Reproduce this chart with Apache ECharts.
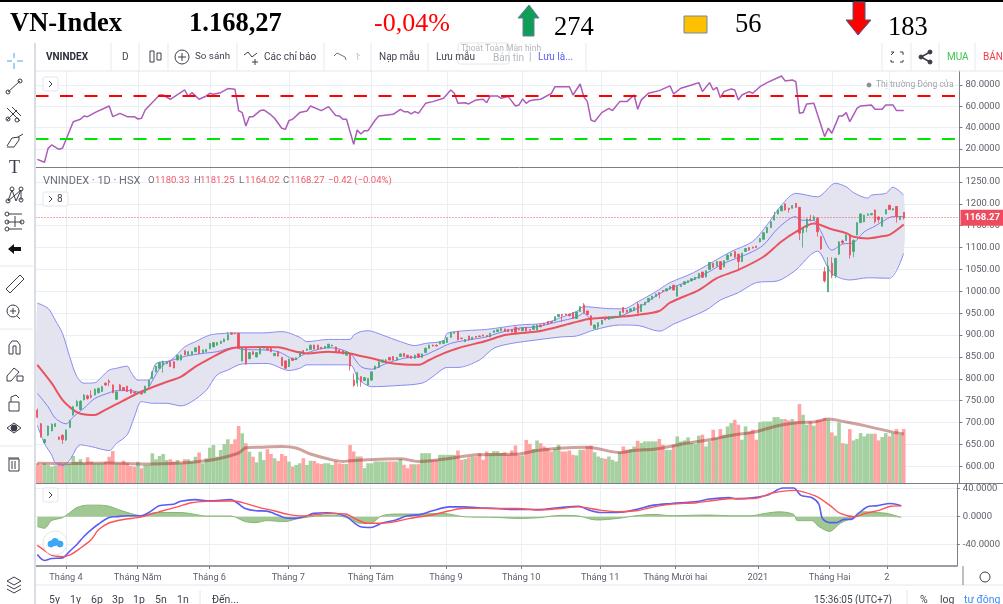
<!DOCTYPE html>
<html>
<head>
<meta charset="utf-8">
<title>VN-Index</title>
<style>
  html, body { margin: 0; padding: 0; background: #fff; overflow: hidden; }
  #chart { width: 1003px; height: 604px; }
</style>
<script src="https://cdn.jsdelivr.net/npm/echarts@6/dist/echarts.min.js"></script>
</head>
<body>
<div id="chart"></div>
<script>
// bars are daily, index 0 is mid March 2020, index 241 is the last session
const slotCount = 257
const tickIndex = [8, 28, 48, 70, 93, 114, 135, 157, 178, 201, 221, 237]
const tickLabels = ['Tháng 4', 'Tháng Năm', 'Tháng 6', 'Tháng 7', 'Tháng Tám', 'Tháng 9', 'Tháng 10', 'Tháng 11', 'Tháng Mười hai', '2021', 'Tháng Hai', '2']

// open, close, low, high
const ohlc = [
  [728,712,710,732],[697,668,665,699],[654,661,652,663],[671,692,669,693],[681,696,680,698],[691,697,690,699],[667,662,660,668],[671,661,651,673],
  [660,683,658,684],[689,704,688,706],[717,736,716,738],[738,748,736,752],[730,749,728,751],[752,763,751,765],[761,755,752,764],[762,758,755,774],
  [763,776,762,778],[768,778,767,780],[771,782,770,784],[790,786,784,792],[795,792,783,799],[786,768,767,787],[753,770,752,772],[786,774,773,788],
  [780,774,773,781],[783,771,770,784],[776,767,766,777],[770,768,766,771],[766,770,765,771],[767,765,764,769],[768,783,767,784],[783,797,782,798],
  [801,816,800,817],[816,829,815,830],[824,837,823,838],[831,839,814,842],[835,838,833,840],[839,828,827,840],[839,825,824,841],[843,854,842,855],
  [843,854,842,856],[864,855,854,865],[855,862,854,863],[855,862,854,863],[862,871,861,872],[875,858,857,876],[860,866,859,867],[862,867,861,868],
  [869,881,868,882],[873,883,872,884],[877,883,876,884],[881,886,880,887],[885,891,884,892],[889,901,888,907],[905,902,901,906],[904,903,902,905],
  [904,870,868,905],[841,870,840,871],[870,834,833,871],[846,860,845,861],[862,856,855,863],[850,860,849,861],[857,871,856,872],[870,871,869,873],
  [869,866,865,870],[870,862,861,871],[853,858,852,859],[862,852,851,863],[849,830,829,850],[841,824,823,842],[828,845,827,846],[847,842,841,848],
  [844,848,843,849],[852,862,851,863],[864,861,860,866],[865,868,864,869],[867,877,866,878],[877,868,867,878],[877,869,868,878],[872,869,868,873],
  [870,874,869,875],[871,879,870,880],[875,877,874,878],[873,862,861,874],[866,860,859,867],[864,857,856,865],[854,862,853,863],[857,829,819,858],
  [797,785,782,812],[790,814,782,815],[805,794,782,806],[796,803,795,804],[786,801,785,802],[797,816,796,817],[822,829,821,830],[826,839,825,840],
  [838,843,837,844],[842,843,841,845],[849,843,842,850],[851,843,842,852],[843,849,842,850],[851,857,850,858],[858,851,850,859],[854,849,848,855],
  [852,847,846,853],[847,854,846,855],[857,849,848,858],[849,857,848,858],[860,870,859,871],[870,877,869,878],[877,875,874,878],[877,875,874,878],
  [880,885,879,886],[881,887,880,888],[883,894,882,895],[895,906,894,907],[904,906,903,907],[908,889,888,909],[893,892,890,894],[885,890,884,891],
  [898,889,888,899],[890,895,889,896],[897,895,894,898],[898,897,896,899],[900,898,897,901],[899,897,896,900],[896,904,895,905],[906,910,905,911],
  [908,912,907,913],[910,915,909,916],[914,909,908,915],[913,908,907,914],[913,907,906,914],[918,906,905,919],[914,912,911,915],[910,917,909,918],
  [917,909,908,918],[913,911,910,914],[913,921,912,922],[912,923,911,924],[923,919,918,924],[927,924,923,928],[931,925,924,932],[931,929,928,932],
  [933,942,932,943],[942,947,941,948],[947,945,930,948],[948,946,945,949],[948,944,943,949],[951,938,937,952],[938,953,937,954],[954,965,953,966],
  [969,951,950,973],[955,947,946,956],[944,923,922,945],[915,923,913,924],[919,928,913,929],[925,934,924,935],[936,935,934,937],[936,942,935,943],
  [941,942,940,943],[941,943,940,944],[942,954,941,955],[963,952,951,964],[957,952,951,958],[954,960,953,961],[956,963,955,964],[971,951,949,975],
  [954,970,953,971],[969,975,968,976],[976,984,975,985],[982,989,981,990],[988,994,987,995],[997,994,984,998],[1002,1000,999,1003],[1001,1006,1000,1007],
  [1005,1011,1004,1012],[1014,1003,1002,1015],[989,1011,988,1012],[1011,1014,1010,1015],[1016,1022,1015,1023],[1020,1024,1019,1025],[1024,1029,1023,1030],[1027,1032,1026,1033],
  [1030,1041,1029,1042],[1044,1032,1031,1045],[1033,1047,1032,1048],[1050,1066,1049,1067],[1064,1055,1054,1065],[1058,1068,1057,1069],[1068,1050,1049,1069],[1056,1070,1055,1071],
  [1072,1083,1071,1084],[1081,1087,1080,1088],[1091,1078,1077,1092],[1085,1068,1049,1086],[1068,1087,1067,1088],[1091,1098,1090,1099],[1100,1094,1093,1101],[1101,1099,1098,1102],
  [1103,1100,1099,1104],[1113,1121,1112,1122],[1119,1134,1118,1135],[1134,1146,1133,1147],[1146,1159,1145,1160],[1163,1174,1162,1182],[1177,1186,1176,1187],[1184,1195,1183,1196],
  [1200,1186,1185,1201],[1190,1187,1180,1191],[1190,1196,1189,1197],[1201,1192,1191,1202],[1192,1133,1117,1193],[1134,1144,1100,1146],[1146,1165,1135,1167],[1165,1163,1160,1175],
  [1163,1170,1163,1174],[1167,1136,1125,1170],[1125,1097,1095,1127],[1045,1024,1020,1056],[999,1058,999,1078],[1064,1036,1030,1078],[1036,1075,1030,1077],[1085,1113,1083,1115],
  [1115,1111,1108,1118],[1116,1129,1115,1130],[1129,1083,1075,1130],[1091,1117,1078,1118],[1129,1157,1128,1158],[1157,1177,1156,1178],[1159,1174,1158,1175],[1174,1177,1173,1178],
  [1175,1178,1174,1179],[1186,1159,1155,1187],[1170,1164,1157,1172],[1149,1169,1148,1170],[1177,1187,1176,1188],[1197,1187,1186,1198],[1186,1189,1185,1190],[1194,1171,1157,1195],
  [1164,1171,1163,1172],[1180.33,1168.27,1164.02,1181.25]
]

const volumes = [
  197,180,197,180,163,175,197,190,197,190,270,213,237,197,257,213,197,197,197,213,263,320,197,197,223,197,170,163,213,147,180,180,
  297,237,270,290,230,237,213,230,197,237,237,213,263,305,197,247,353,380,263,330,390,437,390,437,570,497,397,313,263,207,313,230,
  337,290,247,220,290,270,213,163,180,197,247,180,223,220,197,190,197,197,180,215,197,190,190,380,315,265,265,148,197,197,215,215,
  215,215,215,215,215,239,182,148,188,188,188,298,298,298,232,232,282,282,282,282,282,325,232,239,255,265,265,298,232,315,298,318,
  318,300,308,282,325,375,275,275,431,392,340,425,398,365,348,315,340,382,315,315,325,282,275,332,332,365,375,308,265,250,242,265,
  232,215,308,365,332,340,365,422,400,416,416,416,416,440,383,332,332,383,466,416,426,456,399,392,473,483,366,416,533,450,539,483,
  566,599,632,583,433,566,516,533,433,609,616,616,616,659,659,639,639,626,639,616,789,682,583,616,573,632,632,649,632,506,473,606,
  399,392,539,426,440,499,466,493,493,493,426,459,499,466,499,539,483,539
]

const volumeAvg = [
  [0,197],[10,195],[20,200],[30,190],[40,200],[45,215],[50,240],[56,300],[58,352],[62,358],[68,365],[72,350],[76,290],[81,240],[85,215],[87,222],
  [97,240],[101,243],[106,215],[115,248],[122,282],[134,290],[139,325],[145,348],[153,358],[162,305],[166,325],[172,340],[176,366],[181,399],
  [187,433],[194,483],[199,506],[206,573],[212,606],[216,609],[220,639],[225,609],[231,566],[237,516],[241,489]
]

const bandUpper = [
  [0,973],[3,961],[5,934],[7,904],[9,851],[11,805],[13,790],[16,791],[18,805],[20,820],[22,824],[25,829],[26,816],[28,797],[31,797],[33,835],[37,842],
  [41,873],[44,885],[48,900],[52,904],[55,905],[63,905],[68,908],[73,895],[75,885],[81,890],[87,890],[88,900],[90,908],[92,910],[96,900],[101,885],
  [105,876],[108,881],[113,887],[114,904],[119,910],[125,913],[134,923],[141,927],[145,938],[150,954],[152,965],[158,961],[163,960],[167,976],
  [172,999],[176,1020],[181,1037],[184,1049],[188,1068],[193,1091],[199,1114],[203,1152],[207,1197],[211,1224],[217,1216],[222,1247],[225,1239],
  [227,1226],[231,1213],[232,1220],[236,1224],[238,1238],[241,1220]
]
const bandMiddle = [
  [0,767],[3,736],[5,710],[8,697],[10,713],[13,733],[16,755],[20,768],[22,773],[26,773],[29,768],[35,832],[41,851],[46,858],[50,862],[55,872],[57,867],
  [63,866],[67,862],[72,844],[73,851],[76,862],[81,871],[83,870],[87,858],[90,828],[93,822],[97,835],[102,847],[107,852],[111,866],[115,881],[120,889],
  [125,896],[128,904],[134,916],[139,919],[145,931],[150,941],[152,950],[154,938],[159,938],[166,957],[172,989],[176,1007],[181,1022],[186,1041],
  [191,1064],[198,1087],[202,1106],[206,1144],[211,1171],[212,1163],[216,1162],[218,1136],[221,1094],[224,1108],[227,1111],[230,1136],[233,1149],
  [235,1159],[238,1171],[241,1171]
]
const bandLower = [
  [0,694],[2,652],[4,626],[5,608],[7,601],[9,614],[12,649],[15,645],[20,636],[22,652],[25,672],[27,713],[29,748],[32,744],[36,744],[40,738],[43,748],
  [47,774],[50,809],[53,820],[57,834],[64,835],[70,819],[73,824],[75,832],[81,832],[87,832],[89,805],[90,794],[93,782],[99,784],[107,790],[110,805],
  [114,826],[117,826],[123,843],[127,870],[132,881],[139,889],[146,896],[150,898],[155,912],[162,923],[167,922],[173,909],[177,925],[186,957],[190,980],
  [195,997],[200,1020],[206,1024],[211,1049],[215,1083],[217,1092],[221,1041],[226,1026],[231,1031],[237,1030],[241,1087]
]
const priceAvg = [
  [0,832],[4,790],[7,752],[10,729],[12,720],[16,717],[18,725],[22,742],[26,759],[29,771],[35,790],[40,805],[44,828],[49,851],[53,867],[56,872],[63,873],
  [67,872],[72,862],[75,858],[81,862],[84,860],[87,858],[90,852],[93,847],[99,835],[106,832],[109,843],[113,858],[117,870],[125,887],[130,900],[134,904],
  [139,908],[143,915],[149,928],[153,936],[158,940],[162,942],[167,946],[173,955],[176,974],[184,1003],[189,1030],[195,1049],[202,1079],[207,1114],
  [211,1136],[216,1155],[221,1142],[225,1133],[227,1125],[231,1121],[235,1126],[237,1129],[241,1153]
]

const rsi = [
  [0,10.3],[2,7.5],[3,20.6],[4,23.8],[6,19.7],[7,20.6],[10,45.6],[12,47.8],[13,50.9],[14,50.3],[16,54.1],[20,60.3],[21,50.3],[23,53.4],[25,50.3],[27,50.3],
  [28,48.1],[29,48.8],[30,56.6],[34,70.6],[35,70.6],[37,66.6],[41,75.3],[42,69.1],[43,72.8],[45,66.6],[47,69.7],[48,72.2],[49,71.3],[51,72.8],[53,76.6],
  [55,75.9],[56,56],[57,54.1],[58,41.6],[59,50.3],[60,50.3],[62,56],[63,56.6],[65,51.9],[66,48.8],[68,39.4],[69,38.4],[70,46.6],[71,47.8],[73,54.1],
  [75,55.6],[76,60.3],[79,56],[81,59.7],[83,51.3],[84,51],[85,47.8],[86,47.8],[88,24.4],[89,37.8],[90,34.1],[91,37.2],[92,37.2],[94,47.2],[95,51],[99,52.5],
  [101,57.2],[102,55],[103,55],[104,52.8],[105,55],[106,53.4],[108,62.8],[110,64.4],[113,67.5],[115,75.3],[116,72.2],[117,62.8],[119,63.4],[120,62.2],
  [122,66],[124,66.6],[125,63.4],[126,69.7],[128,69.7],[129,67.5],[131,69.1],[133,60.3],[134,61.3],[135,66.9],[136,62.8],[137,65.3],[138,66],[140,66.6],
  [143,72.2],[144,78.4],[148,78.4],[149,70.6],[151,80.9],[152,69.1],[153,64.4],[154,47.2],[155,45.6],[157,54.1],[159,58.1],[160,56],[162,64.4],[164,64.4],
  [166,70.6],[167,57.2],[168,66],[169,69.1],[170,72.2],[173,74.7],[176,79.1],[177,71.6],[179,76.9],[182,80],[184,82.2],[185,73.8],[187,82.2],[188,75.3],
  [189,77.8],[190,68.1],[191,73.8],[193,76.3],[194,75.3],[195,66],[196,70.6],[198,73.8],[199,72.2],[201,78.4],[203,82.2],[207,88.4],[208,83.8],[210,84.7],
  [211,83.1],[212,53.4],[213,54.1],[214,62.2],[216,62.8],[219,31.6],[220,39.4],[221,34.7],[223,51],[224,51],[225,54.1],[226,45.6],[228,58.1],[229,60.3],
  [232,61.3],[233,57.2],[235,57.2],[236,61.3],[238,61.3],[239,56],[241,56]
]
const rsiHigh = 70
const rsiLow = 30

const macdLine = [
  [0,-54],[2,-62.5],[4,-59.7],[7,-58.8],[9,-49.4],[11,-40],[13,-28.2],[15,-18.8],[17,-10.8],[20,-1],[22,0],[25,1.4],[29,1.4],[31,5.6],[34,15.5],[38,17.9],
  [40,22],[44,24.4],[48,22.6],[54,24.4],[56,18.8],[58,11.8],[61,8.5],[64,8],[66,4.7],[69,-1.4],[72,-2.4],[75,0.9],[77,4.7],[81,5.6],[86,0.9],[88,-7],
  [90,-14],[93,-15.5],[96,-9.4],[100,-4.7],[103,0.9],[107,3.3],[110,8],[115,14],[119,14],[123,12.7],[128,11.8],[133,10.3],[140,10.3],[146,13.2],[151,15],
  [154,9.4],[157,6.1],[162,6.1],[167,10.3],[172,16.5],[177,18.8],[184,21.6],[187,24.9],[193,27.3],[195,25.4],[200,27.3],[204,31.5],[208,40.9],[211,40.9],
  [213,30.5],[216,27.3],[218,17.9],[219,-2.4],[221,-8.5],[223,-8.5],[225,-3.8],[227,-3.8],[229,4.7],[232,15],[234,15.5],[238,18.8],[241,15.5]
]
const macdSignal = [
  [0,-41],[2,-48],[4,-55],[7,-57],[9,-55],[12,-45],[15,-33],[17,-19],[20,-9],[24,-4],[28,-1.4],[30,1],[34,7],[39,14],[43,20],[48,22],[53,22.5],[55,22.5],
  [58,19],[62,13],[66,8.5],[70,3.3],[74,0.9],[77,2.4],[82,4.7],[86,3.8],[89,-3.8],[92,-9.4],[96,-9.4],[100,-7],[104,-2.4],[110,2.4],[115,8.5],[119,12],
  [128,11.8],[134,11.8],[140,9.4],[146,11.8],[151,14],[157,9.4],[162,7],[167,8.5],[172,14],[177,17.9],[184,20],[189,23.5],[195,25.9],[200,25.9],[205,33.8],
  [211,37.6],[217,29.6],[221,16.5],[224,4.7],[228,0],[231,4.7],[235,9.4],[238,15],[241,15.5]
]
const macdHist = [
  [0,-14],[2,-16.5],[4,-5.6],[7,-1.4],[9,5.6],[11,13],[14,16.5],[17,16.5],[20,15],[23,9.4],[27,3.3],[29,1.4],[33,6],[36,6],[40,6],[44,3.3],[47,1],[54,1],
  [58,-7],[61,-8.5],[64,-5.6],[69,-7],[73,-2.4],[82,2.4],[87,-2.4],[90,-9.4],[93,-9.4],[96,1],[100,3.8],[106,3.8],[113,4.7],[119,0],[128,-1],[134,-2.4],
  [140,-1.4],[146,1.9],[151,1],[156,-4.7],[162,-2.4],[167,1.4],[172,3.3],[177,1.4],[187,2.4],[193,1.4],[199,1.4],[203,4.7],[207,7],[211,3.3],[212,-5.6],
  [216,-5.6],[218,-14],[221,-21],[224,-9.4],[226,-4.7],[228,0],[230,7],[234,6],[237,4.7],[241,-1]
]

const rsiTicks = [20, 40, 60, 80]
const priceTicks = [600, 650, 700, 750, 800, 850, 900, 950, 1000, 1050, 1100, 1150, 1200, 1250]
const macdTicks = [-40, 0, 40]
const lastClose = 1168.27

const upColor = '#45a872'
const downColor = '#ee4c5e'
const gridColor = '#e9eff5'
const paneLine = '#7c7f88'
const uiText = '#40444f'
const uiFont = 'Roboto, sans-serif'
const axisFont = '"Liberation Sans Narrow", Roboto, sans-serif'
const titleFont = '"Liberation Serif", serif'

const categories = Array.from({ length: slotCount }, (_, i) => String(i))

function xAxisFor(gridIndex, showLabels) {
  return {
    type: 'category',
    gridIndex,
    data: categories,
    boundaryGap: true,
    axisLine: { show: showLabels, onZero: false, lineStyle: { color: '#9a9da6', width: 2 } },
    axisTick: {
      show: showLabels,
      alignWithLabel: true,
      interval: (i) => tickIndex.includes(i),
      length: 3,
      lineStyle: { color: '#787b86' },
    },
    axisLabel: {
      show: showLabels,
      interval: (i) => tickIndex.includes(i),
      formatter: (_, i) => tickLabels[tickIndex.indexOf(i)] ?? '',
      color: '#5d606b',
      fontFamily: axisFont,
      fontSize: 9.2,
      margin: 7,
    },
    splitLine: {
      show: true,
      alignWithLabel: true,
      interval: (i) => tickIndex.includes(i),
      lineStyle: { color: gridColor },
    },
  }
}

function yAxisFor(gridIndex, min, max, ticks, digits) {
  return {
    type: 'value',
    gridIndex,
    position: 'right',
    min,
    max,
    axisLine: { show: true, lineStyle: { color: paneLine } },
    axisTick: { show: true, customValues: ticks, length: 3, lineStyle: { color: '#787b86' } },
    axisLabel: {
      customValues: ticks,
      formatter: (v) => v.toFixed(digits),
      color: '#5d606b',
      fontFamily: axisFont,
      fontSize: 9.5,
      margin: 6,
    },
    splitLine: { show: true, lineStyle: { color: gridColor } },
  }
}

function lineSeries(name, data, xi, yi, color, width, extra) {
  return {
    name,
    type: 'line',
    xAxisIndex: xi,
    yAxisIndex: yi,
    data,
    showSymbol: false,
    silent: true,
    clip: false,
    lineStyle: { color, width },
    ...extra,
  }
}

// --- page furniture around the chart ---
const ui = []
const text = (x, y, str, fill, size, extra) =>
  ui.push({
    type: 'text',
    x,
    y,
    silent: true,
    z: 20,
    style: { text: str, fill, font: `${size}px ${uiFont}`, textVerticalAlign: 'middle', ...extra },
  })
const rule = (x1, y1, x2, y2, color, width) =>
  ui.push({
    type: 'line',
    silent: true,
    z: 19,
    shape: { x1, y1, x2, y2 },
    style: { stroke: color, lineWidth: width ?? 1 },
  })
const stroke = (points, color, width) =>
  ui.push({
    type: 'polyline',
    silent: true,
    z: 20,
    shape: { points },
    style: { stroke: color ?? '#3a3e48', lineWidth: width ?? 1, fill: null },
  })
const ring = (cx, cy, r, color, fill) =>
  ui.push({
    type: 'circle',
    silent: true,
    z: 20,
    shape: { cx, cy, r },
    style: { stroke: color ?? '#3a3e48', fill: fill ?? 'none', lineWidth: 1 },
  })
const shape = (points, fill, line) =>
  ui.push({
    type: 'polygon',
    silent: true,
    z: 20,
    shape: { points },
    style: { fill, stroke: line ?? 'none', lineWidth: 1 },
  })
const box = (x, y, width, height, fill, line, r) =>
  ui.push({
    type: 'rect',
    silent: true,
    z: 19,
    shape: { x, y, width, height, r: r ?? 0 },
    style: { fill, stroke: line ?? 'none', lineWidth: 1 },
  })

// header band
box(0, 0, 1003, 2, '#000')
text(10, 24, 'VN-Index', '#000', 26, { font: `bold 26.5px ${titleFont}` })
text(189, 24, '1.168,27', '#000', 26, { font: `bold 26.5px ${titleFont}` })
text(374, 24, '-0,04%', '#f00', 26, { font: `26px ${titleFont}` })
shape([[529, 5], [539, 18], [534, 18], [534, 36], [523, 36], [523, 18], [518, 18]], '#0f9d58', '#5f7f9a')
text(554, 28, '274', '#000', 26, { font: `26.5px ${titleFont}` })
box(684, 16, 23, 17, '#ffc000', '#6f8aa0')
text(735, 25, '56', '#000', 26, { font: `26.5px ${titleFont}` })
shape([[853, 2], [865, 2], [865, 20], [871, 20], [858, 35], [846, 20], [853, 20]], '#f00', '#4d5d82')
text(888, 28, '183', '#000', 26, { font: `26.5px ${titleFont}` })

// top toolbar
rule(36, 71, 1003, 71, '#e2e6ec')
;[111, 139, 168, 237, 324, 371, 428, 586, 882, 911, 939, 975].forEach((x) => rule(x, 43, x, 71, '#e6e9ee'))
text(46, 57, 'VNINDEX', '#2a2e39', 10, { font: `bold 10px ${uiFont}` })
text(122, 57, 'D', uiText, 10)
box(150, 51, 4, 11, 'none', '#3a3e48')
box(157, 53, 4, 7, 'none', '#3a3e48')
ring(182, 57, 7)
stroke([[178, 57], [186, 57]])
stroke([[182, 53], [182, 61]])
text(195, 57, 'So sánh', uiText, 9.8)
stroke([[244, 55], [248, 52], [252, 57], [257, 53]])
stroke([[252, 62], [258, 62]])
stroke([[255, 59], [255, 65]])
text(264, 57, 'Các chỉ báo', uiText, 10)
stroke([[334, 56], [337, 53], [345, 57], [346, 60]], '#6b6f7a')
stroke([[360, 56], [357, 53], [358, 60]], '#c3c6cd')
text(379, 57, 'Nạp mẫu', uiText, 10)
text(436, 57, 'Lưu mẫu', uiText, 10)
box(458, 43, 51, 21, 'rgba(255,255,255,0.55)', '#e4e6ea', 2)
text(461, 49, 'Thoát Toàn Màn hình', '#b3b6bd', 8.5)
text(493, 58, 'Bản tin', '#b3b6bd', 10)
text(529, 57, '|', '#a9adb6', 10)
text(538, 57, 'Lưu là...', '#5a62f5', 10)
stroke([[891, 52], [894, 52], [891, 55]])
stroke([[900, 52], [903, 52], [903, 55]])
stroke([[891, 60], [891, 62], [894, 62]])
stroke([[903, 60], [903, 62], [900, 62]])
ring(921, 57, 2, '#3a3e48', '#3a3e48')
ring(930, 52, 2, '#3a3e48', '#3a3e48')
ring(930, 62, 2, '#3a3e48', '#3a3e48')
stroke([[930, 52], [921, 57], [930, 62]], '#3a3e48', 1.5)
text(947, 57, 'MUA', '#3fc64f', 10)
text(983, 57, 'BÁN', '#ee3b4a', 10)

// left toolbar
box(34, 43, 2, 561, '#d9dee5')
;[266, 329, 446].forEach((y) => rule(0, y, 33, y, '#e6e9ee'))
stroke([[14, 53], [14, 58]], '#3ba7f5')
stroke([[14, 63], [14, 69]], '#3ba7f5')
stroke([[7, 61], [12, 61]], '#3ba7f5')
stroke([[17, 61], [23, 61]], '#3ba7f5')
stroke([[8, 92], [20, 81]])
ring(8, 92, 2)
ring(20, 81, 2)
stroke([[7, 108], [20, 121]])
stroke([[12, 107], [21, 116]])
stroke([[7, 120], [17, 110]])
ring(8, 119, 2)
ring(17, 120, 2)
stroke([[7, 146], [12, 138], [19, 137], [19, 140], [14, 147], [7, 147]])
stroke([[18, 137], [23, 134]])
text(9, 168, 'T', '#3a3e48', 18, { font: '18px "Liberation Serif", serif' })
stroke([[8, 201], [12, 190], [16, 201], [21, 190], [21, 200]])
stroke([[8, 201], [21, 190]])
ring(8, 201, 2)
ring(12, 189, 2)
ring(21, 189, 2)
ring(21, 200, 2)
stroke([[8, 214], [22, 214]])
stroke([[8, 229], [22, 229]])
stroke([[7, 222], [22, 222]])
stroke([[15, 216], [15, 227]])
ring(7, 214, 2)
ring(7, 229, 2)
ring(7, 222, 2)
ring(22, 222, 2)
shape([[8, 249], [14, 244], [14, 247], [21, 247], [21, 251], [14, 251], [14, 254]], '#111')
shape([[6, 289], [20, 275], [24, 279], [10, 293]], 'none', '#3a3e48')
ring(13, 311, 6)
stroke([[10, 311], [16, 311]])
stroke([[13, 308], [13, 314]])
stroke([[17, 316], [20, 319]])
stroke([[9, 354], [9, 345], [12, 341], [17, 341], [20, 345], [20, 354], [16, 354], [16, 346], [13, 346], [13, 354], [9, 354]])
stroke([[7, 376], [14, 368], [19, 372], [11, 381], [7, 381], [7, 376]])
box(17, 376, 6, 5, 'none', '#3a3e48')
box(9, 402, 10, 9, 'none', '#3a3e48')
stroke([[11, 402], [11, 397], [16, 395], [19, 398]])
ring(14, 428, 3, '#3a3e48', '#3a3e48')
stroke([[7, 428], [14, 423], [21, 428], [14, 433], [7, 428]])
box(9, 459, 10, 12, 'none', '#3a3e48')
stroke([[8, 458], [19, 458]])
stroke([[12, 461], [12, 469]])
stroke([[15, 461], [15, 469]])
stroke([[7, 581], [14, 577], [21, 581], [14, 585], [7, 581]])
stroke([[7, 585], [14, 589], [21, 585]])
stroke([[7, 589], [14, 593], [21, 589]])

// pane captions
text(43, 181, 'VNINDEX · 1D · HSX', '#6b6f7a', 11)
text(148, 181, 'O', '#6b6f7a', 9.5)
text(155, 181, '1180.33', '#ee5a6b', 9.5)
text(194, 181, 'H', '#6b6f7a', 9.5)
text(200, 181, '1181.25', '#ee5a6b', 9.5)
text(239, 181, 'L', '#6b6f7a', 9.5)
text(245, 181, '1164.02', '#ee5a6b', 9.5)
text(283, 181, 'C', '#6b6f7a', 9.5)
text(290, 181, '1168.27', '#ee5a6b', 9.5)
text(328, 181, '−0.42 (−0.04%)', '#ee5a6b', 9.5)
box(43, 192, 25, 14, '#fff', '#e2e5ea', 2)
stroke([[49, 196], [52, 199], [49, 202]])
text(57, 199, '8', uiText, 10)
box(43, 77, 15, 14, '#fff', '#e2e5ea', 2)
stroke([[49, 81], [52, 84], [49, 87]])
box(43, 488, 15, 14, '#fff', '#e2e5ea', 2)
stroke([[49, 492], [52, 495], [49, 498]])
ring(869, 85, 2, '#8a8d96', '#8a8d96')
text(876, 85, 'Thị trường Đóng cửa', '#a3a6ae', 8.5)
ring(55, 543, 12, '#e3e6ea', '#fff')
ring(51, 544, 3, '#3ba7f5', '#3ba7f5')
ring(55, 542, 3.5, '#3ba7f5', '#3ba7f5')
ring(60, 544, 3, '#3ba7f5', '#3ba7f5')
box(49, 544, 12, 3, '#3ba7f5')

// bottom strip
rule(36, 585, 1003, 585, '#e2e6ec')
;[[49, '5y'], [70, '1y'], [91, '6p'], [112, '3p'], [133, '1p'], [155, '5n'], [177, '1n']].forEach(([x, s]) => text(x, 600, s, uiText, 10.5))
rule(200, 590, 200, 604, '#e2e6ec')
text(212, 600, 'Đến...', uiText, 10.5)
text(814, 600, '15:36:05 (UTC+7)', uiText, 10)
rule(907, 590, 907, 604, '#e2e6ec')
text(920, 600, '%', uiText, 10.5)
text(940, 600, 'log', uiText, 10.5)
text(964, 600, 'tự động', '#3f8df5', 10.5)
ring(985, 577, 5)
rule(963, 566, 963, 585, paneLine)

// pane boundaries
rule(36, 167.5, 1003, 167.5, paneLine)
rule(36, 483.5, 1003, 483.5, paneLine)

const chart = echarts.init(document.getElementById('chart'), null, { renderer: 'canvas' })

chart.setOption({
  animation: false,
  backgroundColor: '#fff',
  grid: [
    { left: 35.5, right: 40, top: 71, height: 96 },
    { left: 35.5, right: 40, top: 168, height: 315 },
    { left: 35.5, right: 40, top: 484, height: 82 },
  ],
  xAxis: [xAxisFor(0, false), xAxisFor(1, false), xAxisFor(1, false), xAxisFor(2, true)],
  yAxis: [
    yAxisFor(0, 3.1, 93.1, rsiTicks, 4),
    yAxisFor(1, 561.8, 1282, priceTicks, 2),
    { type: 'value', gridIndex: 1, min: 0, max: 3150, show: false },
    yAxisFor(2, -70.4, 46.7, macdTicks, 4),
  ],
  series: [
    lineSeries('RSI', rsi, 0, 0, '#ab5db8', 1.5, {
      z: 4,
      markLine: {
        silent: true,
        symbol: 'none',
        label: { show: false },
        data: [
          { yAxis: rsiHigh, lineStyle: { color: '#ff0000', width: 2, type: [13, 11.5] } },
          { yAxis: rsiLow, lineStyle: { color: '#00e600', width: 2, type: [13, 11.5] } },
        ],
      },
    }),
    {
      name: 'Dải',
      type: 'custom',
      xAxisIndex: 1,
      yAxisIndex: 1,
      silent: true,
      clip: false,
      z: 1,
      data: [[0]],
      renderItem: (_, api) => ({
        type: 'polygon',
        shape: {
          smooth: 0.2,
          points: [...bandUpper, ...[...bandLower].reverse()].map((p) => api.coord(p)),
        },
        style: { fill: '#e3e4f0' },
      }),
    },
    {
      name: 'KL',
      type: 'bar',
      xAxisIndex: 2,
      yAxisIndex: 2,
      barWidth: 3.6,
      silent: true,
      z: 2,
      data: volumes.map((v, i) => ({
        value: v,
        itemStyle: { color: ohlc[i][1] >= ohlc[i][0] ? '#a5d0a0' : '#ffa3a3' },
      })),
    },
    lineSeries('KL TB', volumeAvg, 2, 2, 'rgba(150,48,40,0.45)', 3, { z: 3, smooth: 0.3 }),
    lineSeries('Trên', bandUpper, 1, 1, '#8a8cf2', 1, { z: 3, smooth: 0.3 }),
    lineSeries('Giữa', bandMiddle, 1, 1, '#7f82f4', 1, { z: 3, smooth: 0.3 }),
    lineSeries('Dưới', bandLower, 1, 1, '#8a8cf2', 1, { z: 3, smooth: 0.3 }),
    lineSeries('MA', priceAvg, 1, 1, '#e9535f', 2, { z: 3, smooth: 0.3 }),
    {
      name: 'VNINDEX',
      type: 'candlestick',
      xAxisIndex: 1,
      yAxisIndex: 1,
      barWidth: 1.8,
      silent: true,
      z: 5,
      data: ohlc,
      itemStyle: { color: upColor, color0: downColor, borderColor: upColor, borderColor0: downColor, borderWidth: 0.8 },
      markLine: {
        silent: true,
        symbol: 'none',
        precision: 2,
        lineStyle: { color: '#ee4c5e', type: [1, 2], width: 1 },
        label: {
          position: 'end',
          distance: 1,
          formatter: () => lastClose.toFixed(2),
          color: '#fff',
          backgroundColor: '#ee4c5e',
          padding: [3, 4],
          fontFamily: axisFont,
          fontSize: 9.5,
          fontWeight: 'bold',
        },
        data: [{ yAxis: lastClose }],
      },
    },
    lineSeries('Hist', macdHist, 3, 3, '#86b573', 1, { z: 2, smooth: 0.3, areaStyle: { color: '#9cc48c', opacity: 0.95 } }),
    lineSeries('MACD', macdLine, 3, 3, '#5a5cf6', 1.6, { z: 3, smooth: 0.3 }),
    lineSeries('Signal', macdSignal, 3, 3, '#ff5252', 1.4, { z: 4, smooth: 0.3 }),
  ],
  graphic: ui,
})
</script>
</body>
</html>
